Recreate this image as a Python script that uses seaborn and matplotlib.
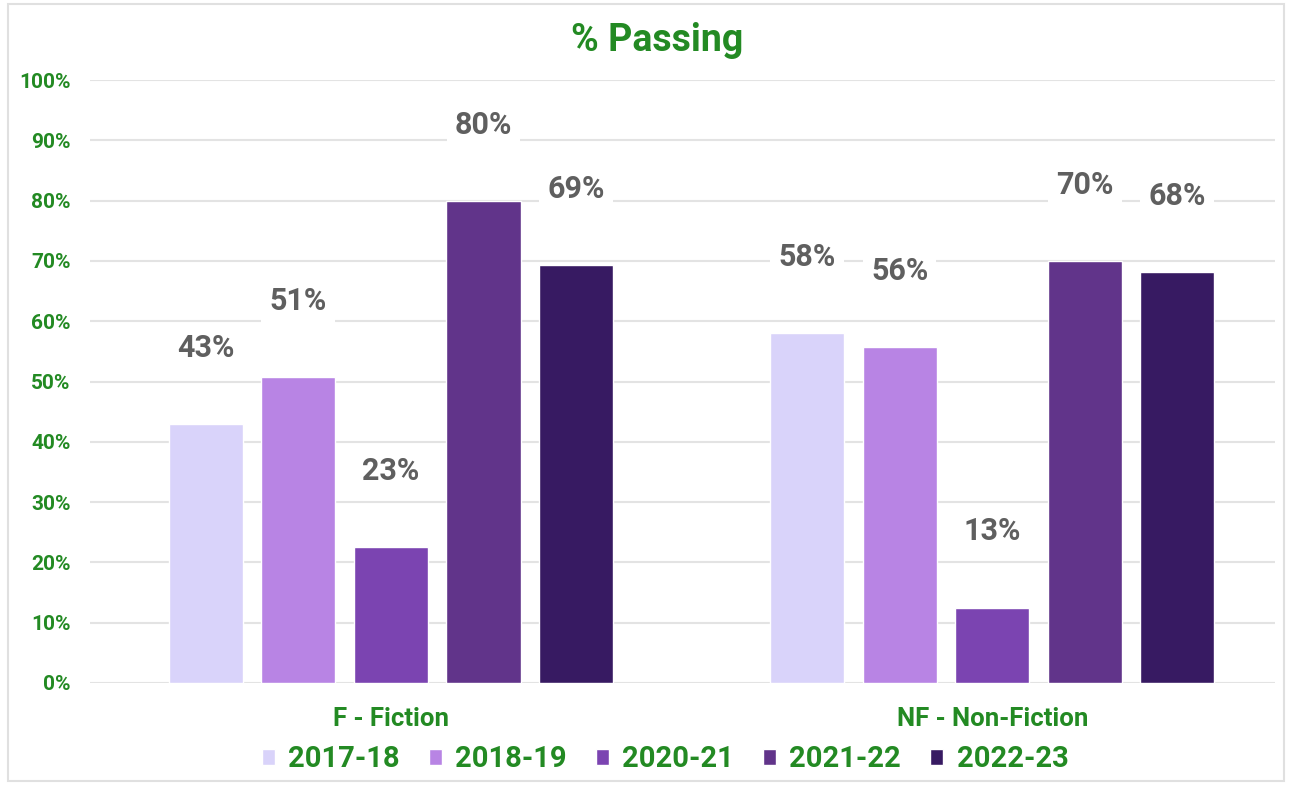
import pandas as pd
import numpy as np
import seaborn as sns
import matplotlib.pyplot as plt
import matplotlib as mpl

# data
categories = ['F - Fiction', 'NF - Non-Fiction']
years = ['2017-18', '2018-19', '2020-21', '2021-22', '2022-23']
fiction = [43, 50.7, 22.5, 80, 69.3]
non_fiction = [58, 55.7, 12.5, 70, 68.2]
labels_fiction = ['43%', '51%', '23%', '80%', '69%']
labels_non_fiction = ['58%', '56%', '13%', '70%', '68%']
y_ticks = [0, 10, 20, 30, 40, 50, 60, 70, 80, 90, 100]

palette = ['#d9d3fa', '#b884e4', '#7b44b1', '#61348a', '#371a62']
green = '#238a23'

df = pd.DataFrame({
    'Category': [categories[0]] * 5 + [categories[1]] * 5,
    'Year': years + years,
    'Passing': fiction + non_fiction,
})

sns.set_theme(style='white')
plt.rcParams['font.family'] = ['Roboto', 'DejaVu Sans']

fig = plt.figure(figsize=(12.89, 7.85), dpi=100)
ax = fig.add_axes([0.07, 0.13, 0.919, 0.768])

sns.barplot(data=df, x='Category', y='Passing', hue='Year', palette=palette,
            width=0.77, gap=0.2, ax=ax, saturation=1, legend=True)

ax.set_ylim(0, 100)
ax.set_xlim(-0.5, 1.47)
ax.set_yticks(y_ticks)
ax.set_yticklabels(['{}%'.format(t) for t in y_ticks])
ax.yaxis.grid(True, color='#e3e3e3', linewidth=1.5)
ax.set_axisbelow(True)
for s in ax.spines.values():
    s.set_visible(False)
ax.tick_params(axis='y', length=0, pad=14, labelsize=15, labelcolor=green)
ax.tick_params(axis='x', length=0, pad=17, labelsize=18.5, labelcolor=green)
for t in ax.get_yticklabels() + ax.get_xticklabels():
    t.set_fontweight('bold')
ax.set_xlabel('')
ax.set_ylabel('')

# value labels above bars
for i, cont in enumerate(ax.containers):
    ax.bar_label(cont, labels=[labels_fiction[i], labels_non_fiction[i]],
                 padding=44, fontsize=22, fontweight='bold', color='#5f5f5f',
                 bbox=dict(facecolor='white', edgecolor='none', pad=6))

fig.text(0.51, 0.948, '% Passing', ha='center', va='center', fontsize=27,
         fontweight='bold', color=green)

leg = ax.legend(loc='center', bbox_to_anchor=(0.516, 0.033), bbox_transform=fig.transFigure,
                ncol=5, frameon=False, handlelength=0.45, handleheight=0.45,
                columnspacing=1.0, handletextpad=0.45, fontsize=21)
for t in leg.get_texts():
    t.set_color(green)
    t.set_fontweight('bold')

# light frame round the figure
fig.patches.append(mpl.patches.Rectangle((0.006, 0.005), 0.99, 0.99, transform=fig.transFigure,
                                         fill=False, edgecolor='#e0e0e0', linewidth=1.5))

fig.savefig('out.png', dpi=100)
